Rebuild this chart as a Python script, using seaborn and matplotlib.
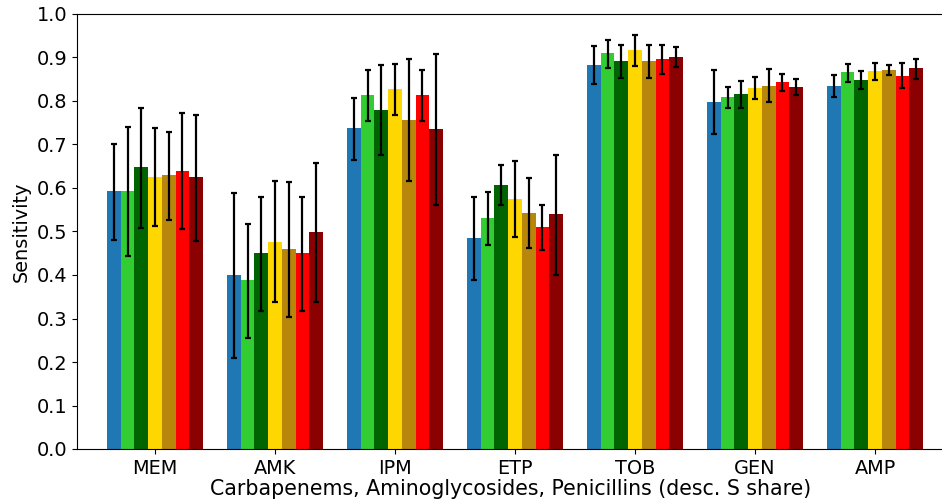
import matplotlib
matplotlib.use("Agg")
import matplotlib.pyplot as plt
import seaborn as sns
import numpy as np
import pandas as pd

plt.rcParams['font.family'] = ['DejaVu Sans']
plt.rcParams['font.size'] = 13.9

categories = ["MEM", "AMK", "IPM", "ETP", "TOB", "GEN", "AMP"]
series = ["S1", "S2", "S3", "S4", "S5", "S6", "S7"]
colors = ["#1f77b4", "#32cd32", "#006400", "#ffd700", "#b8860b", "#ff0000", "#8b0000"]

# values[series][category]
values = [
    [0.592, 0.399, 0.738, 0.484, 0.883, 0.797, 0.834],
    [0.592, 0.388, 0.813, 0.530, 0.910, 0.809, 0.866],
    [0.648, 0.450, 0.779, 0.606, 0.892, 0.816, 0.848],
    [0.625, 0.477, 0.827, 0.574, 0.917, 0.830, 0.869],
    [0.629, 0.459, 0.756, 0.542, 0.892, 0.834, 0.871],
    [0.638, 0.450, 0.813, 0.510, 0.896, 0.844, 0.857],
    [0.625, 0.498, 0.735, 0.540, 0.901, 0.832, 0.876],
]
lower = [
    [0.481, 0.209, 0.665, 0.388, 0.840, 0.724, 0.809],
    [0.443, 0.256, 0.754, 0.470, 0.876, 0.785, 0.843],
    [0.508, 0.317, 0.676, 0.561, 0.854, 0.784, 0.827],
    [0.513, 0.338, 0.768, 0.488, 0.880, 0.804, 0.848],
    [0.527, 0.303, 0.615, 0.461, 0.854, 0.797, 0.860],
    [0.505, 0.318, 0.754, 0.457, 0.863, 0.823, 0.830],
    [0.479, 0.337, 0.562, 0.401, 0.879, 0.813, 0.850],
]
upper = [
    [0.702, 0.588, 0.808, 0.579, 0.926, 0.871, 0.860],
    [0.740, 0.517, 0.871, 0.591, 0.941, 0.833, 0.886],
    [0.784, 0.580, 0.883, 0.652, 0.929, 0.846, 0.870],
    [0.737, 0.617, 0.886, 0.662, 0.952, 0.856, 0.888],
    [0.728, 0.613, 0.896, 0.624, 0.929, 0.873, 0.883],
    [0.772, 0.580, 0.871, 0.562, 0.929, 0.863, 0.888],
    [0.768, 0.658, 0.907, 0.675, 0.924, 0.850, 0.897],
]

rows = []
for si, s in enumerate(series):
    for ci, c in enumerate(categories):
        rows.append({"drug": c, "model": s, "sens": values[si][ci]})
df = pd.DataFrame(rows)

fig = plt.figure(figsize=(9.42, 5.04), dpi=100)
ax = fig.add_axes([77/942, 55/504, 867/942, 435/504])

sns.barplot(data=df, x="drug", y="sens", hue="model", order=categories,
            hue_order=series, palette=colors, saturation=1, width=0.8,
            errorbar=None, legend=False, ax=ax, linewidth=0)

bar_containers = list(ax.containers)
for si, cont in enumerate(bar_containers):
    xs = [p.get_x() + p.get_width() / 2 for p in cont.patches]
    v = np.array(values[si])
    lo = np.array(lower[si])
    hi = np.array(upper[si])
    ax.errorbar(xs, v, yerr=[v - lo, hi - v], fmt="none", ecolor="black",
                elinewidth=1.6, capsize=2.3, capthick=1.6, zorder=3)

ax.set_ylim(0, 1.0)
ax.set_yticks(np.arange(0, 1.01, 0.1))
ax.set_yticklabels([f"{t:.1f}" for t in np.arange(0, 1.01, 0.1)])
ax.set_xlim(-0.65, 6.575)
ax.set_ylabel("Sensitivity", fontsize=13.9)
ax.set_xlabel("Carbapenems, Aminoglycosides, Penicillins (desc. S share)",
              fontsize=14.8, labelpad=1)

fig.savefig("out.png", dpi=100)
